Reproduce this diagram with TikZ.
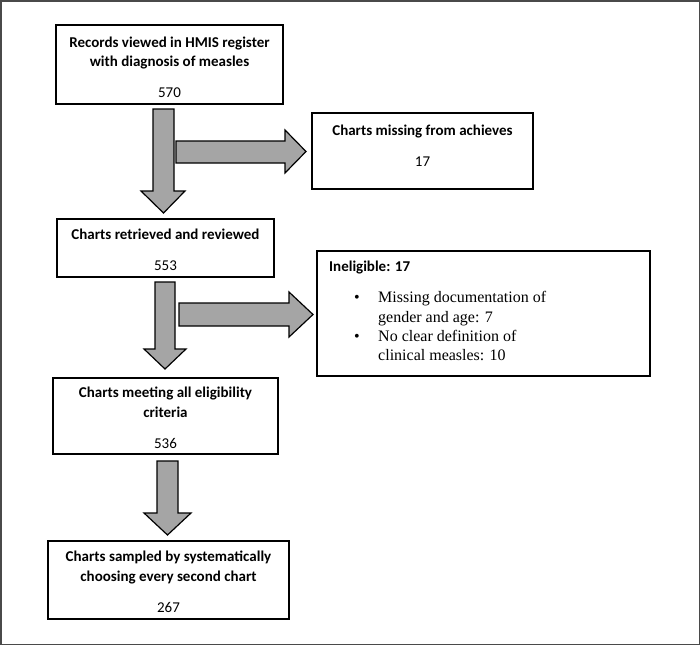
\documentclass[tikz,border=0pt]{standalone}
\usepackage{fontspec}
\setmainfont{Carlito}
\newfontfamily\serifb{Liberation Serif}
\definecolor{framegray}{HTML}{4A4A4A}
\definecolor{arrowgray}{HTML}{A5A5A5}
\tikzset{
  box/.style={draw=black, line width=2pt, fill=white, inner sep=0pt},
  ttl/.style={font=\bfseries\fontsize{15}{19}\selectfont, inner sep=0pt, anchor=base},
  num/.style={font=\fontsize{15}{19}\selectfont, inner sep=0pt, anchor=base},
  bul/.style={font=\serifb\fontsize{16}{19.5}\selectfont, inner sep=0pt, anchor=base west},
  blockarrow/.style={draw=black, line width=1.2pt, fill=arrowgray, line join=miter},
  frame/.style={draw=framegray, line width=1.5pt}
}
\begin{document}
\begin{tikzpicture}[x=1pt, y=-1pt]
\useasboundingbox (0,0) rectangle (700,645);
\draw[frame] (0.75,0.75) rectangle (699.25,644.25);

% boxes
\node[box, minimum width=227pt, minimum height=79pt] (b1) at (169.5,64.5) {};
\node[box, minimum width=221pt, minimum height=76pt] (b2) at (422.5,151) {};
\node[box, minimum width=217pt, minimum height=58pt] (b3) at (165.5,248) {};
\node[box, minimum width=333pt, minimum height=125pt] (b4) at (483.5,313.5) {};
\node[box, minimum width=225pt, minimum height=76pt] (b5) at (165.5,416) {};
\node[box, minimum width=241pt, minimum height=78pt] (b6) at (168.5,580) {};

% texts box 1
\node[ttl] (t1a) at (169.5,47) {Records viewed in HMIS register};
\node[ttl] (t1b) at (169.5,66) {with diagnosis of measles};
\node[num] (n1) at (169.5,97) {570};
% box 2
\node[ttl] (t2a) at (422.5,135) {Charts missing from achieves};
\node[num] (n2) at (422.5,166) {17};
% box 3
\node[ttl] (t3a) at (165.5,239) {Charts retrieved and reviewed};
\node[num] (n3) at (165.5,270) {553};
% box 4
\node[ttl, anchor=base west] (t4a) at (329,271) {Ineligible: 17};
\node[bul, anchor=base] (d1) at (357,302) {•};
\node[bul] (l1) at (378,302) {Missing documentation of};
\node[bul] (l2) at (378,322) {gender and age: 7};
\node[bul, anchor=base] (d2) at (357,341) {•};
\node[bul] (l3) at (378,341) {No clear definition of};
\node[bul] (l4) at (378,360) {clinical measles: 10};
% box 5
\node[ttl] (t5a) at (165.5,397) {Charts meeting all eligibility};
\node[ttl] (t5b) at (165.5,417) {criteria};
\node[num] (n5) at (165.5,448) {536};
% box 6
\node[ttl] (t6a) at (168.5,561) {Charts sampled by systematically};
\node[ttl] (t6b) at (168.5,581) {choosing every second chart};
\node[num] (n6) at (168.5,612) {267};

% block arrows (down)
\draw[blockarrow] (153,109) -- (174,109) -- (174,191) -- (185,191) -- (163.5,213) -- (141,191) -- (153,191) -- cycle;
\draw[blockarrow] (155,282) -- (175,282) -- (175,349) -- (186,349) -- (165,369) -- (144,349) -- (155,349) -- cycle;
\draw[blockarrow] (157,461) -- (178,461) -- (178,513) -- (191,513) -- (167.5,535) -- (144,513) -- (157,513) -- cycle;
% block arrows (right)
\draw[blockarrow] (176,141) -- (285,141) -- (285,130) -- (306,151.5) -- (285,173) -- (285,163) -- (176,163) -- cycle;
\draw[blockarrow] (179,303) -- (289,303) -- (289,292) -- (313,314.5) -- (289,337) -- (289,326) -- (179,326) -- cycle;
\end{tikzpicture}
\end{document}
